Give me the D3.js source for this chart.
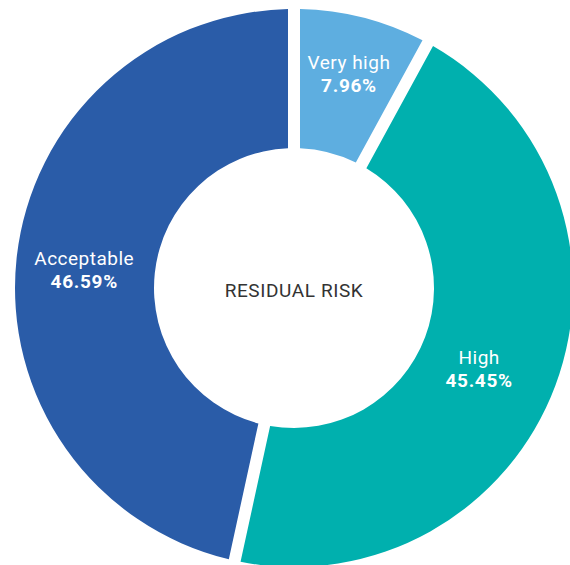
<!DOCTYPE html>
<html>
<head>
<meta charset="utf-8">
<script src="https://cdn.jsdelivr.net/npm/d3@7"></script>
<style>
  html, body { margin: 0; padding: 0; background: #fff; }
  svg { display: block; }
</style>
</head>
<body>
<svg id="chart" width="570" height="565"></svg>
<script>
// Residual risk breakdown, clockwise from 12 o'clock
const categories = ["Very high", "High", "Acceptable"];
const shares = [7.96, 45.45, 46.59];
const shareLabels = ["7.96%", "45.45%", "46.59%"];
const colors = ["#5eaee0", "#00b0ae", "#2a5ca8"];
const centerTitle = "RESIDUAL RISK";

const width = 570, height = 565;
const cx = 294, cy = 288;
const outerR = 279, innerR = 140;
const gap = 12;          // white gap between slices, px
const labelR = 212;

// small hand adjustments of label placement around the centroid
const labelNudge = {
  "Very high": [2.5, -9.5],
  "High": [-13.5, 6],
  "Acceptable": [1, 4.5]
};

const svg = d3.select("#chart");
const g = svg.append("g").attr("transform", `translate(${cx},${cy})`);

const data = categories.map((c, i) => ({ name: c, value: shares[i], label: shareLabels[i], color: colors[i] }));

const pie = d3.pie().value(d => d.value).sort(null);
const arcs = pie(data);

const arc = d3.arc()
  .innerRadius(innerR)
  .outerRadius(outerR)
  .padRadius(outerR)
  .padAngle(gap / outerR);

const labelArc = d3.arc().innerRadius(labelR).outerRadius(labelR);

g.selectAll("path.slice")
  .data(arcs)
  .join("path")
  .attr("class", "slice")
  .attr("d", arc)
  .attr("fill", d => d.data.color);

const font = "Roboto, 'DejaVu Sans', sans-serif";

const labels = g.selectAll("g.label")
  .data(arcs)
  .join("g")
  .attr("class", "label")
  .attr("transform", d => {
    const [x, y] = labelArc.centroid(d);
    const [dx, dy] = labelNudge[d.data.name] || [0, 0];
    return `translate(${x + dx},${y + dy})`;
  });

labels.append("text")
  .attr("text-anchor", "middle")
  .attr("y", -4.5)
  .attr("fill", "#fff")
  .attr("font-family", font)
  .attr("font-size", 19)
  .attr("letter-spacing", 0.5)
  .text(d => d.data.name);

labels.append("text")
  .attr("text-anchor", "middle")
  .attr("y", 18.5)
  .attr("fill", "#fff")
  .attr("font-family", font)
  .attr("font-weight", "bold")
  .attr("font-size", 19)
  .attr("letter-spacing", 0.7)
  .text(d => d.data.label);

g.append("text")
  .attr("text-anchor", "middle")
  .attr("y", 8.5)
  .attr("fill", "#333")
  .attr("font-family", font)
  .attr("font-size", 19)
  .attr("letter-spacing", 0.6)
  .text(centerTitle);
</script>
</body>
</html>
